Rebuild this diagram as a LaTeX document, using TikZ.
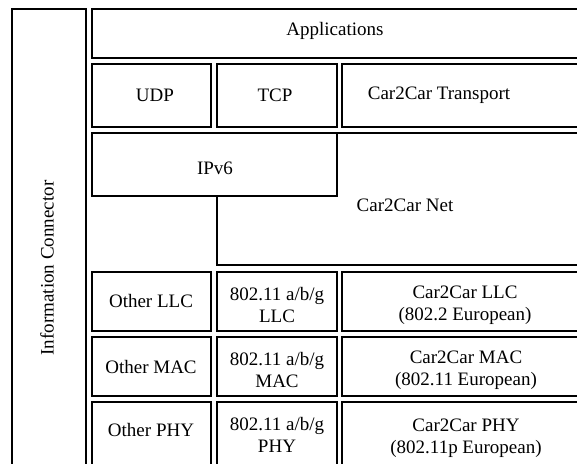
\documentclass[tikz,border=0pt]{standalone}
\usepackage{fontspec}
\setmainfont{Liberation Serif}
\tikzset{
  every picture/.style={line width=1.6pt},
  layer/.style={draw=black, line join=miter},
  txt/.style={font=\fontsize{19}{22}\selectfont, align=center, inner sep=0pt},
}
\begin{document}
\begin{tikzpicture}[x=1pt, y=-1pt]
  \useasboundingbox (0,0) rectangle (577,463);
  \clip (0,0) rectangle (577,463);
  % side column and top rows
  \draw[layer] (12,9) rectangle (86,540);
  \draw[layer] (92,9) rectangle (590,58);
  \draw[layer] (92,64) rectangle (211,127);
  \draw[layer] (217,64) rectangle (337,127);
  \draw[layer] (342,64) rectangle (600,127);
  % network layer: Car2Car Net wraps round IPv6
  \draw[layer] (92,133) -- (600,133) -- (600,265) -- (217,265) -- (217,196) -- (92,196) -- cycle;
  \draw[layer] (92,133) rectangle (337,196);
  % link and physical rows
  \foreach \ya/\yb in {272/331, 337/396, 402/480} {
    \draw[layer] (92,\ya) rectangle (211,\yb);
    \draw[layer] (217,\ya) rectangle (337,\yb);
    \draw[layer] (342,\ya) rectangle (600,\yb);
  }
  \node[txt, rotate=90] (info) at (47,268) {Information Connector};
  \node[txt] (apps) at (335,31) {Applications};
  \node[txt] (udp) at (155,95) {UDP};
  \node[txt] (tcp) at (275,95) {TCP};
  \node[txt] (c2ctrans) at (439,95) {Car2Car Transport};
  \node[txt] (ipv6) at (215,168) {IPv6};
  \node[txt] (c2cnet) at (405,205) {Car2Car Net};
  \node[txt] (otherllc) at (151,301) {Other LLC};
  \node[txt] (othermac) at (151,367) {Other MAC};
  \node[txt] (otherphy) at (151,430) {Other PHY};
  \node[txt] (wifillc) at (277,305) {802.11 a/b/g\\LLC};
  \node[txt] (wifimac) at (277,370) {802.11 a/b/g\\MAC};
  \node[txt] (wifiphy) at (277,435) {802.11 a/b/g\\PHY};
  \node[txt] (c2cllc) at (465,305) {Car2Car LLC\\(802.2 European)};
  \node[txt] (c2cmac) at (466,370) {Car2Car MAC\\(802.11 European)};
  \node[txt] (c2cphy) at (466,438) {Car2Car PHY\\(802.11p European)};
\end{tikzpicture}
\end{document}
